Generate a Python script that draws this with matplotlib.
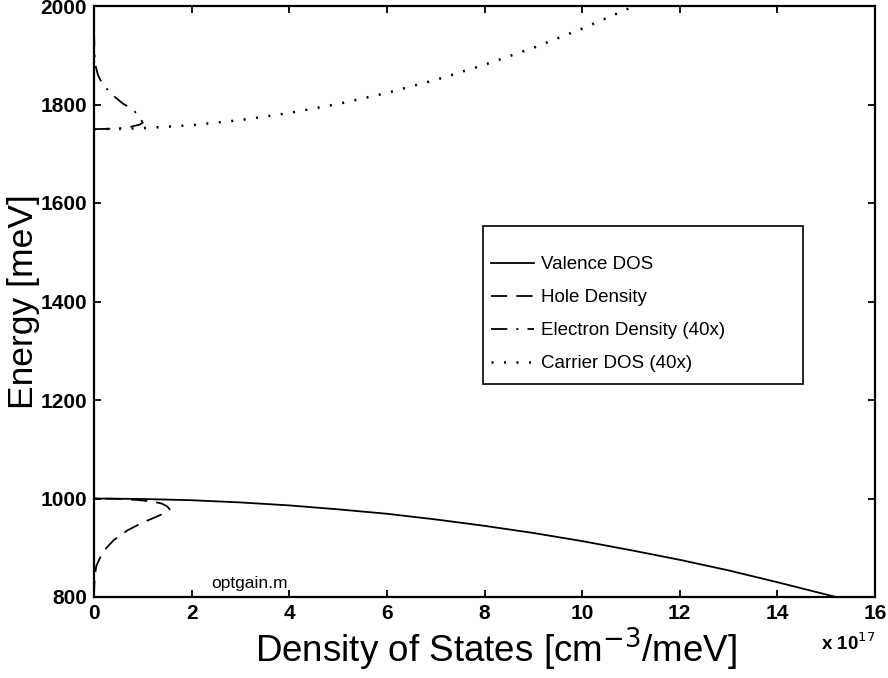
import matplotlib
matplotlib.use('Agg')
import matplotlib.pyplot as plt
from matplotlib.patches import Rectangle

plt.rcParams['font.family'] = ['Liberation Sans', 'DejaVu Sans']

# values, x in units of 1e17 cm^-3/meV, energy in meV
valence_x = [0, 1, 2, 3, 4, 5, 6, 7, 8, 9, 10, 11, 12, 13, 14, 15, 15.2]
valence_e = [1000, 999, 996.5, 992, 986, 978, 969, 957.5, 944.5, 930, 913.5, 895, 875.5, 854, 830, 805, 800]

hole_x = [0.0, 0.005, 0.02, 0.047, 0.18, 0.41, 0.68, 0.97, 1.28, 1.48, 1.55, 1.5, 1.38, 1.21, 0.9, 0.5, 0.0]
hole_e = [800, 820, 845, 863, 892, 916, 935, 950, 963, 972, 978, 984, 990, 993.5, 997, 999.3, 1000]

elec_x = [0.0, 0.3, 0.56, 0.76, 0.93, 1.0, 0.97, 0.9, 0.8, 0.59, 0.42, 0.3, 0.18, 0.08, 0.03, 0.01, 0.0, 0.0]
elec_e = [1750, 1750.6, 1752, 1755, 1759, 1763, 1768, 1778, 1790, 1802, 1816, 1828, 1840, 1860, 1880, 1910, 1950, 2000]

carrier_x = [0, 0.5, 1, 2, 3, 4, 5, 6, 7, 8, 9, 10, 11, 11.2]
carrier_e = [1750, 1750.5, 1752, 1758, 1768.4, 1782.7, 1801, 1823.5, 1850, 1880.6, 1915, 1954, 1997, 2006]

legend_labels = ['Valence DOS', 'Hole Density', 'Electron Density (40x)', 'Carrier DOS (40x)']

fig = plt.figure(figsize=(8.88, 6.78), dpi=100)
ax = fig.add_axes([94/888, 1 - 597/678, 781/888, 591/678])

lw = 1.3
ax.plot(valence_x, valence_e, color='black', lw=lw, label=legend_labels[0])
ax.plot(hole_x, hole_e, color='black', lw=lw, dashes=(9, 5), label=legend_labels[1])
ax.plot(elec_x, elec_e, color='black', lw=lw, dashes=(9, 5, 1.2, 5), label=legend_labels[2])
ax.plot(carrier_x, carrier_e, color='black', lw=1.8, dashes=(0.8, 4.2), label=legend_labels[3])

ax.set_xlim(0, 16)
ax.set_ylim(800, 2000)
ax.set_xticks(range(0, 17, 2))
ax.set_yticks(range(800, 2001, 200))
ax.tick_params(direction='in', length=5, width=1.3, top=True, right=True,
               labelsize=15, pad=5)
for lab in ax.get_xticklabels() + ax.get_yticklabels():
    lab.set_fontweight('bold')
for sp in ax.spines.values():
    sp.set_linewidth(1.6)

ax.set_xlabel('Density of States [cm$^{\\mathsf{-3}}$/meV]', fontsize=26.5, labelpad=2, x=0.515)
ax.set_ylabel('Energy [meV]', fontsize=25.5, labelpad=0)

ax.text(1.0, -0.078, r'x 10$^{17}$', transform=ax.transAxes, ha='right', va='center',
        fontsize=13.5, fontweight='bold')
ax.text(2.41, 812, 'optgain.m', fontsize=12.5, ha='left', va='bottom')

# legend box
ax.add_patch(Rectangle((0.498, 0.360), 0.41, 0.268, transform=ax.transAxes,
                       facecolor='white', edgecolor='black', lw=1.2, zorder=3))
leg = ax.legend(loc='upper left', bbox_to_anchor=(0.508, 0.577), frameon=False,
                fontsize=13.5, handlelength=2.3, handletextpad=0.4, labelspacing=0.85,
                borderpad=0, borderaxespad=0)
leg.set_zorder(4)

fig.savefig('out.png', dpi=100)
